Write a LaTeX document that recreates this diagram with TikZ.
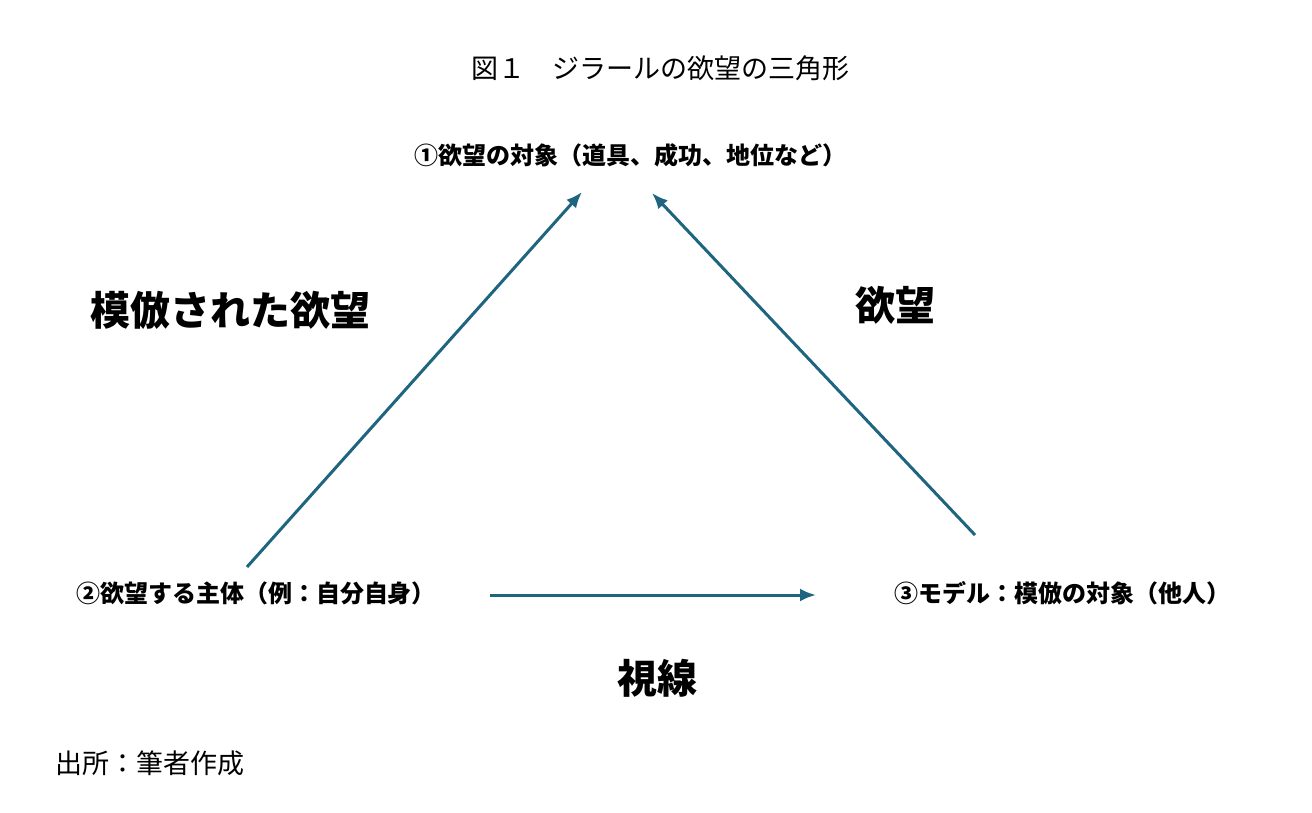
\documentclass[tikz,border=0pt]{standalone}
\usepackage{fontspec}
\setmainfont{Noto Sans CJK JP}
\usetikzlibrary{arrows.meta}
\definecolor{arr}{HTML}{1F6580}
\begin{document}
\begin{tikzpicture}[x=1pt,y=-1pt,
  lbl/.style={font=\bfseries\fontsize{24}{28}\selectfont,inner sep=0},
  big/.style={font=\bfseries\fontsize{40}{46}\selectfont,inner sep=0},
  ttl/.style={font=\fontsize{27}{32}\selectfont,inner sep=0},
  conn/.style={arr,line width=3pt,-{Latex[length=16pt,width=13pt]}}]
\useasboundingbox (0,0) rectangle (1312,813);
\node[ttl] (title) at (660,68) {図１　ジラールの欲望の三角形};
\node[lbl] (obj) at (630,155) {①欲望の対象（道具、成功、地位など）};
\node[lbl] (subj) at (256,593) {②欲望する主体（例：自分自身）};
\node[lbl] (model) at (1062,593) {③モデル：模倣の対象（他人）};
\node[big] (l1) at (230,310) {模倣された欲望};
\node[big] (l2) at (895,305) {欲望};
\node[big] (l3) at (657,678) {視線};
\node[ttl,anchor=west] (src) at (55,763) {出所：筆者作成};
\coordinate (a1s) at (247,567); \coordinate (a1e) at (582,192);
\coordinate (a2s) at (975,535); \coordinate (a2e) at (652,193);
\coordinate (a3s) at (490,595); \coordinate (a3e) at (816,595);
\draw[conn] (a1s) -- (a1e);
\draw[conn] (a2s) -- (a2e);
\draw[conn] (a3s) -- (a3e);
\end{tikzpicture}
\end{document}
